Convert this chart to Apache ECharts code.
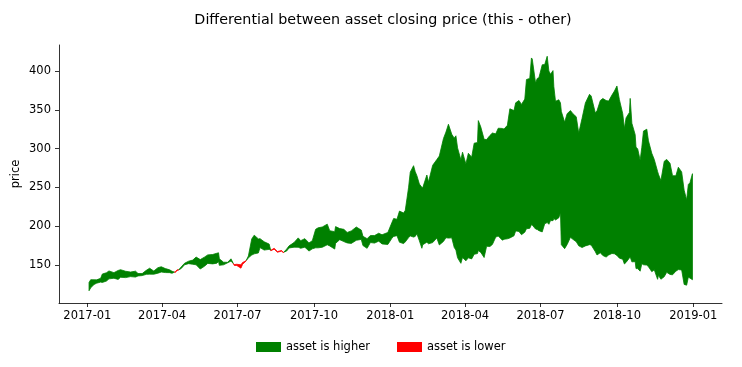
<!DOCTYPE html>
<html>
<head>
<meta charset="utf-8">
<script src="https://cdn.jsdelivr.net/npm/echarts@6/dist/echarts.min.js"></script>
<style>
html,body{margin:0;padding:0;background:#fff;}
#chart{width:742px;height:367px;}
</style>
</head>
<body>
<div id="chart"></div>
<script>
// ---- data ----
const dates = [
'2017-01-03','2017-01-05','2017-01-09','2017-01-12','2017-01-17','2017-01-19','2017-01-24','2017-01-27',
'2017-02-02','2017-02-07','2017-02-10','2017-02-16','2017-02-22','2017-02-28','2017-03-03','2017-03-08',
'2017-03-13','2017-03-17','2017-03-22','2017-03-27','2017-03-31','2017-04-05','2017-04-10','2017-04-13',
'2017-04-17','2017-04-19','2017-04-21','2017-04-24','2017-04-28','2017-05-03','2017-05-08','2017-05-12',
'2017-05-17','2017-05-22','2017-05-26','2017-06-01','2017-06-06','2017-06-08','2017-06-09','2017-06-14',
'2017-06-19','2017-06-23','2017-06-27','2017-06-30','2017-07-05','2017-07-07','2017-07-11','2017-07-14',
'2017-07-18','2017-07-21','2017-07-26','2017-07-28','2017-08-02','2017-08-08','2017-08-10','2017-08-14',
'2017-08-18','2017-08-23','2017-08-25','2017-08-29','2017-09-01','2017-09-07','2017-09-12','2017-09-15',
'2017-09-20','2017-09-25','2017-09-29','2017-10-03','2017-10-06','2017-10-11','2017-10-17','2017-10-20',
'2017-10-26','2017-10-27','2017-11-01','2017-11-06','2017-11-10','2017-11-15','2017-11-21','2017-11-27',
'2017-11-29','2017-12-04','2017-12-08','2017-12-13','2017-12-18','2017-12-22','2017-12-29',
'2018-01-03','2018-01-05','2018-01-09','2018-01-12','2018-01-17','2018-01-19','2018-01-23','2018-01-25',
'2018-01-29','2018-01-31','2018-02-02','2018-02-05','2018-02-08','2018-02-09','2018-02-14','2018-02-16',
'2018-02-21','2018-02-26','2018-03-01','2018-03-06','2018-03-09','2018-03-12','2018-03-16','2018-03-19',
'2018-03-21','2018-03-23','2018-03-27','2018-03-29','2018-04-02','2018-04-05','2018-04-09','2018-04-12',
'2018-04-16','2018-04-17','2018-04-20','2018-04-24','2018-04-27','2018-05-01','2018-05-04','2018-05-08',
'2018-05-11','2018-05-16','2018-05-18','2018-05-22','2018-05-25','2018-05-30','2018-06-01','2018-06-05',
'2018-06-08','2018-06-12','2018-06-14','2018-06-18','2018-06-20','2018-06-21','2018-06-25','2018-06-27',
'2018-06-29','2018-07-03','2018-07-06','2018-07-09','2018-07-11','2018-07-13','2018-07-16','2018-07-17',
'2018-07-19','2018-07-23','2018-07-25','2018-07-26','2018-07-30','2018-08-02','2018-08-06','2018-08-09',
'2018-08-13','2018-08-16','2018-08-20','2018-08-24','2018-08-29','2018-08-31','2018-09-05','2018-09-07',
'2018-09-11','2018-09-14','2018-09-18','2018-09-21','2018-09-25','2018-09-28','2018-10-01','2018-10-04',
'2018-10-08','2018-10-10','2018-10-12','2018-10-16','2018-10-17','2018-10-19','2018-10-23','2018-10-24',
'2018-10-26','2018-10-29','2018-10-31','2018-11-02','2018-11-06','2018-11-08','2018-11-12','2018-11-15',
'2018-11-19','2018-11-20','2018-11-23','2018-11-27','2018-11-30','2018-12-04','2018-12-07','2018-12-11',
'2018-12-14','2018-12-18','2018-12-21','2018-12-24','2018-12-26','2018-12-28','2018-12-31'
];
const thisPrice = [
127.5,131.1,131.0,130.9,132.9,138.4,140.1,142.4,
140.2,143.0,144.0,142.0,141.0,142.1,139.1,139.0,
143.2,145.9,142.3,146.6,147.8,145.4,143.9,142.0,
140.5,143.0,143.8,147.5,152.2,155.0,156.4,160.3,
157.0,160.2,163.1,163.6,165.2,165.8,158.0,153.7,
153.5,158.0,149.5,149.4,146.0,151.0,155.0,161.7,
183.6,188.5,183.7,184.0,180.0,177.0,168.5,170.5,
166.5,168.0,165.8,170.5,174.7,179.0,185.0,181.4,
184.0,178.5,181.4,196.0,198.0,199.0,202.7,194.2,
193.0,199.5,197.0,196.0,192.0,194.0,199.0,195.0,
187.0,184.0,188.0,188.0,191.0,189.0,192.0,
205.0,210.0,209.0,219.5,217.0,220.5,250.3,269.7,
278.0,270.3,265.1,254.3,250.1,249.5,266.0,256.9,
278.5,285.9,290.4,313.0,321.3,331.4,318.5,313.5,
316.5,300.9,285.7,295.4,280.3,294.0,289.0,307.0,
307.8,336.1,327.8,312.0,311.7,317.0,320.1,319.0,
326.3,326.0,325.2,330.0,351.3,349.0,359.0,362.0,
357.0,363.8,389.0,390.5,416.8,415.4,384.5,390.4,
391.4,408.0,408.3,419.0,400.0,395.8,400.5,380.0,
361.0,362.9,358.8,348.0,334.0,345.0,349.0,345.0,
341.0,320.0,339.0,358.8,370.0,367.7,346.0,348.7,
362.0,364.6,362.0,361.2,369.0,374.1,380.7,363.0,
345.0,325.9,339.6,346.4,364.7,332.7,318.0,301.8,
299.8,285.0,301.8,322.6,325.0,310.0,294.0,286.0,
270.6,267.0,258.8,283.7,286.1,281.0,265.1,265.0,
276.0,270.0,246.4,233.9,253.7,256.1,267.7
];
const otherPrice = [
116.9,120.7,124.9,126.6,128.0,127.6,129.4,132.2,
133.0,131.5,134.2,133.8,135.1,134.5,136.0,136.4,
138.0,138.3,138.2,139.5,141.0,140.3,140.2,139.4,
141.4,143.8,143.7,145.5,150.3,151.8,151.0,150.3,
144.9,148.4,152.1,151.5,152.4,154.7,149.6,150.3,
152.9,155.1,150.6,151.0,150.3,153.3,155.3,159.3,
162.9,164.4,165.6,172.5,169.3,170.2,169.0,171.5,
167.4,168.7,166.3,168.0,172.0,173.0,172.9,171.6,
173.0,168.0,170.9,172.2,172.2,172.9,176.1,174.6,
170.6,177.9,182.7,180.2,178.5,177.9,181.9,183.0,
175.1,171.5,179.0,178.3,180.8,177.2,176.5,
184.7,186.9,187.9,179.4,177.6,179.8,185.4,187.5,
186.0,186.9,190.3,181.3,171.6,176.1,179.5,177.4,
178.9,184.9,175.9,180.4,185.2,184.7,185.1,172.6,
169.4,159.4,152.2,159.8,155.4,159.3,157.9,163.9,
164.8,168.7,166.3,159.7,174.2,173.9,176.6,186.0,
187.4,182.0,183.2,183.8,184.9,187.7,194.0,193.3,
189.1,192.3,196.8,197.3,202.0,201.5,196.4,195.8,
194.3,192.7,203.2,204.7,202.5,207.3,207.2,210.0,
208.1,210.9,217.5,176.3,171.1,176.4,185.7,183.1,
180.1,174.7,172.6,174.6,176.3,175.7,167.2,163.0,
165.9,162.3,160.3,162.9,164.9,164.5,162.4,158.9,
157.4,151.4,153.4,159.0,160.4,154.1,154.4,145.4,
145.4,142.1,151.8,150.4,149.9,147.9,141.5,143.8,
131.6,136.7,131.7,135.0,140.6,137.9,137.4,142.1,
144.1,143.7,125.0,124.1,134.2,133.2,131.1
];
const tickLabels = ['2017-01','2017-04','2017-07','2017-10','2018-01','2018-04','2018-07','2018-10','2019-01'];
const yTicks = [150, 200, 250, 300, 350, 400];
const seriesNames = ['asset is higher', 'asset is lower'];

// ---- helpers ----
function toMs(s){ const p = s.split('-').map(Number); return Date.UTC(p[0], p[1]-1, p[2] || 1); }
const tickValues = tickLabels.map(toMs);
const DAY = 86400000;
const xMin = toMs('2017-01-01') - 34.2*DAY;
const xMax = toMs('2019-01-01') + 34.6*DAY;

// split the band into contiguous runs where this>=other (higher) or this<other (lower)
function buildRuns(){
  const pts = dates.map((d,i)=>[toMs(d), thisPrice[i], otherPrice[i]]);
  const runs = [];
  let cur = null;
  for (let i=0;i<pts.length;i++){
    const p = pts[i];
    const pos = p[1] - p[2] >= 0;
    if (!cur){ cur = {pos, pts:[p]}; continue; }
    if (pos === cur.pos){ cur.pts.push(p); continue; }
    const q = pts[i-1];
    const d0 = q[1]-q[2], d1 = p[1]-p[2];
    const f = d0/(d0-d1);
    const t = q[0] + (p[0]-q[0])*f;
    const v = q[1] + (p[1]-q[1])*f;
    const c = [t, v, v];
    cur.pts.push(c);
    runs.push(cur);
    cur = {pos, pts:[c, p]};
  }
  if (cur) runs.push(cur);
  return runs;
}
const runs = buildRuns();
const higherRuns = runs.filter(r=>r.pos);
const lowerRuns = runs.filter(r=>!r.pos);

function bandSeries(name, list, color){
  return {
    type: 'custom',
    name: name,
    itemStyle: {color: color},
    data: list.map(r=>[r.pts[0][0], r.pts[0][1]]),
    renderItem: function(params, api){
      const r = list[params.dataIndex];
      const up = r.pts.map(p=>api.coord([p[0], p[1]]));
      const dn = r.pts.slice().reverse().map(p=>api.coord([p[0], p[2]]));
      return {
        type: 'polygon',
        shape: {points: up.concat(dn)},
        style: {fill: color, stroke: color, lineWidth: 0.8}
      };
    },
    silent: true
  };
}

const FONT = 'DejaVu Sans';
const chart = echarts.init(document.getElementById('chart'), null, {renderer: 'canvas'});
chart.setOption({
  animation: false,
  backgroundColor: '#fff',
  title: {
    text: 'Differential between asset closing price (this - other)',
    left: 378, top: 8, textAlign: 'center',
    textStyle: {fontFamily: FONT, fontSize: 14.3, fontWeight: 'normal', color: '#000'}
  },
  legend: {
    left: 251, top: 336,
    itemWidth: 25, itemHeight: 10, itemGap: 27,
    icon: 'rect',
    data: seriesNames,
    textStyle: {fontFamily: FONT, fontSize: 11.5, color: '#000'},
    selectedMode: false
  },
  grid: {left: 59, right: 20, top: 45, bottom: 64, containLabel: false},
  xAxis: {
    type: 'value', min: xMin, max: xMax,
    splitLine: {show: false},
    axisLine: {lineStyle: {color: '#000', width: 0.8}},
    axisTick: {show: true, length: 4, lineStyle: {color: '#000', width: 0.8}, customValues: tickValues},
    axisLabel: {
      customValues: tickValues, margin: 7,
      fontFamily: FONT, fontSize: 11.5, color: '#000',
      formatter: function(v){ const k = tickValues.indexOf(v); return k >= 0 ? tickLabels[k] : ''; }
    }
  },
  yAxis: {
    type: 'value', min: 101.1, max: 433.5,
    name: 'price', nameLocation: 'middle', nameGap: 37, nameMoveOverlap: false,
    nameTextStyle: {fontFamily: FONT, fontSize: 11.5, color: '#000'},
    splitLine: {show: false},
    axisLine: {show: true, lineStyle: {color: '#000', width: 0.8}},
    axisTick: {show: true, length: 4, lineStyle: {color: '#000', width: 0.8}, customValues: yTicks},
    axisLabel: {customValues: yTicks, margin: 8, fontFamily: FONT, fontSize: 11.5, color: '#000'}
  },
  series: [
    bandSeries(seriesNames[0], higherRuns, '#008000'),
    bandSeries(seriesNames[1], lowerRuns, '#ff0000')
  ]
});
</script>
</body>
</html>
